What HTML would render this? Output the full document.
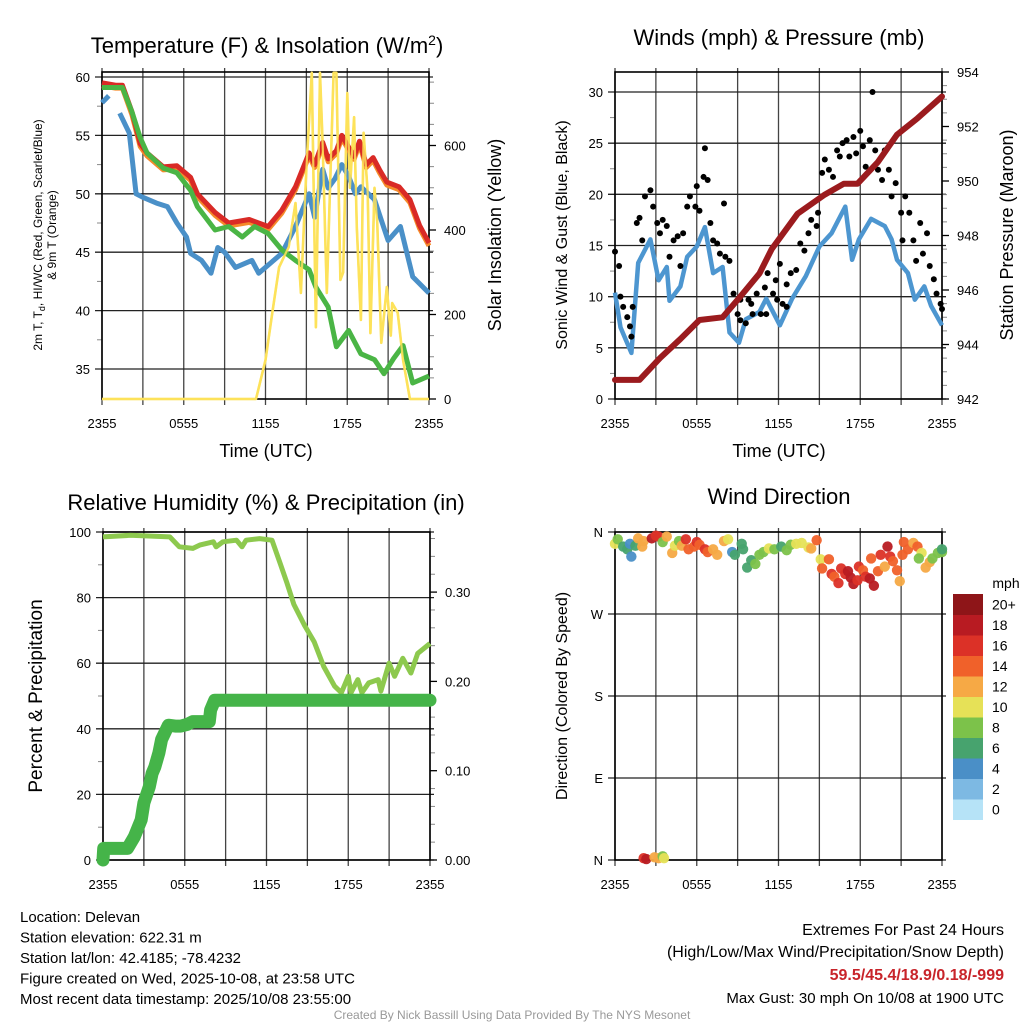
<!DOCTYPE html>
<html><head><meta charset="utf-8"><style>
html,body{margin:0;padding:0;background:#fff;}
svg{display:block;font-family:"Liberation Sans",Arial,sans-serif;}
</style></head><body>
<svg id="c" width="1024" height="1024" viewBox="0 0 1024 1024"></svg>
<script>
// ---------- DATA ----------
const timeTicks=["2355","0555","1155","1755","2355"];
// Panel 1 temperature
const redH=[0,1,1.5,2.2,2.8,3.3,4.5,5.5,6.5,7,8.3,9.3,10.8,12.2,13.2,14.2,15.2,15.6,16.2,16.6,17.2,17.6,18.1,18.5,18.9,19.4,19.9,20.4,20.9,21.8,22.6,23.3,24];
const redV=[59.5,59.3,59.3,57,54.3,53.5,52.3,52.4,51.4,50,48.4,47.5,47.8,47.2,48.6,50.6,53.5,52.5,54.4,53,53.7,55,54,53.2,54.5,52.5,53.1,52,51,50.6,49.5,47.3,45.8];
const grnH=[0,1.5,2.2,2.8,3.3,4.5,5.5,6.5,7,8.3,9.3,10.3,11.2,12.2,13.2,14.2,15.2,15.7,16.6,17.2,18.1,19,20,20.7,21.4,22.1,22.8,24];
const grnV=[59.1,59.1,57,54.8,53.5,52.2,51.8,50.3,48.9,46.9,47.2,46.3,47.2,46.6,45.2,44.3,43.5,42,40.3,36.9,38.3,36.3,35.8,34.6,35.9,37,33.8,34.4];
const bluH=[0,0.5,null,1.3,2,2.5,3,4,4.8,5.5,6.2,6.5,7.3,8,8.5,9,9.8,11,11.5,12.3,13.2,14.2,15.2,15.6,16.2,16.6,17.1,17.6,18.1,18.6,19,20,21,21.9,22.8,24];
const bluV=[57.8,58.4,null,56.9,55.2,50,49.7,49.2,48.9,47.5,46.3,44.9,44.3,43.2,45.4,45,43.7,44.3,43.2,44,44.9,47.2,50,48,52.1,50.5,51.3,52.5,51.5,50,50.6,49.5,46,47.2,42.9,41.5];
const solH=[0,11.3,12,12.5,13,13.7,14.2,14.6,15,15.4,15.7,16,16.2,16.5,17,17.2,17.5,17.7,18,18.2,18.5,18.7,19,19.2,19.5,19.7,20,20.2,20.5,20.9,21.2,21.3,21.7,22.1,22.6,24];
const solV=[0,0,92,204,312,360,464,251,545,772,170,772,600,251,772,772,282,300,724,500,667,407,187,630,488,156,500,420,133,265,150,227,204,92,0,0];
// Panel 2 winds & pressure
const presH=[0,1.8,3.3,4.8,6.2,7.9,9.1,10.6,11.5,13.4,15.4,16.8,17.8,19.3,20.7,22.2,24];
const presV=[942.7,942.7,943.5,944.2,944.9,945.0,945.7,946.6,947.5,948.8,949.5,949.9,949.9,950.7,951.7,952.3,953.1];
const windH=[0,0.4,1.2,1.7,2.6,3.2,3.8,4,4.8,5.3,6,6.6,7.2,7.9,8.4,9.1,9.6,10.6,11.1,12.1,13,14,15,15.9,16.9,17.4,17.9,18.8,19.8,20.3,20.7,21.5,22,22.7,23.2,24];
const windV=[10.4,7,4.5,13.3,15.6,11.6,12.9,9.6,11,13.9,14.9,16.8,12.3,12.9,6.5,5.5,7.8,8.5,9.8,7.2,9.8,12,14.9,16.2,18.8,13.6,15.6,17.6,16.9,15.6,13.6,12.3,9.7,11,9.1,7.2];
const gustH=[0,0.3,0.4,0.6,0.9,1.1,1.2,1.3,1.6,1.8,2.0,2.2,2.6,2.8,3.1,3.3,3.5,3.8,4.0,4.3,4.6,4.8,5.0,5.3,5.5,5.9,6.0,6.2,6.5,6.6,6.8,7.0,7.2,7.5,7.7,8.0,8.1,8.4,8.7,9.0,9.2,9.6,9.8,10.0,10.4,10.7,11.0,11.2,11.6,11.9,12.3,12.6,12.9,13.3,13.6,13.9,14.2,14.4,14.8,14.9,15.2,15.4,15.7,16.0,16.3,16.5,16.7,17.0,17.2,17.5,17.7,18.0,18.2,18.4,18.7,18.9,19.1,19.3,19.6,19.8,20.1,20.3,20.6,21.0,21.1,21.3,21.6,21.9,22.1,22.4,22.6,22.9,23.1,23.4,23.6,23.9,24.0,9.2,10.1,11.1,11.8,12.1,12.6];
const gustV=[14.4,13.0,10.0,9.0,8.0,7.1,6.1,9.0,17.2,17.7,15.5,19.8,20.4,18.8,17.2,16.2,17.5,16.9,13.9,15.5,15.9,13.0,16.2,18.8,19.8,18.8,20.8,18.4,21.7,24.5,21.4,17.2,15.5,15.2,14.2,19.1,13.9,13.5,10.3,8.3,7.7,7.4,9.7,9.3,10.3,8.3,10.9,12.3,10.3,9.7,9.3,11.2,12.3,12.6,15.2,14.5,16.2,17.5,16.9,18.2,22.1,23.4,22.4,21.7,24.3,23.7,25.0,25.3,23.7,25.6,24.0,26.2,24.7,22.7,25.3,30.0,24.3,22.4,21.4,24.3,22.4,19.8,21.1,18.2,15.5,19.8,18.2,15.5,13.5,17.2,14.2,16.2,13.0,11.7,10.3,9.3,8.8,9.7,8.3,8.3,11.6,13.2,9.0];
// Panel 3 RH & precip
const rhH=[0,2,4.9,5.6,6.6,7.1,8.1,8.3,8.8,9.8,10.2,10.5,11.5,12.4,13,13.5,14,14.8,15.5,16.2,17,17.5,18,18.2,18.7,19,19.5,20.2,20.4,21,21.4,22,22.6,23.1,24];
const rhV=[98.5,99,98.5,95.5,95,96,97,95.5,97,97.5,95.5,97.5,98,97.5,90.5,84.5,78,71.5,66.5,59,53,51,56,51,55,51,54,55,51.5,60,56,61.5,57,63,66];
const prH=[0,0.05,0.5,1,1.5,1.8,2.3,2.8,3,3.4,3.6,3.8,4.1,4.3,4.8,5.3,5.7,6.2,6.6,7.2,7.8,7.9,8.2,9,10,11,12,13,14,15,16,17,18,19,20,21,22,23,24];
const prV=[0,0.013,0.013,0.013,0.013,0.013,0.026,0.045,0.064,0.082,0.097,0.104,0.12,0.135,0.151,0.15,0.15,0.152,0.155,0.155,0.155,0.168,0.179,0.179,0.179,0.179,0.179,0.179,0.179,0.179,0.179,0.179,0.179,0.179,0.179,0.179,0.179,0.179,0.179];
// Panel 4 wind direction
const dirH=[0,0.2,0.6,0.9,1.1,1.2,1.5,1.7,2,2.1,2.7,3,3.2,3.5,3.8,4.2,4.4,4.7,4.9,5.2,5.4,5.8,6,6.2,6.6,6.8,7.2,7.5,8,8.3,8.6,8.8,9.3,9.4,9.7,10,10.3,10.6,10.9,11.3,11.7,12.2,12.6,12.9,13.3,13.7,14.2,14.4,14.8,15.1,15.2,15.7,15.9,16.1,16.4,16.6,16.9,17.1,17.3,17.5,17.8,17.9,18.2,18.4,18.7,18.8,19,19.3,19.5,19.8,20,20.2,20.4,20.7,20.9,21.1,21.2,21.5,21.9,22.2,22.5,22.3,22.8,23.1,23.3,23.7,24,24,2.1,2.3,2.9,3.2,3.5,3.6];
const dirV=[347,352,344,341,347,333,345,353,344,350,353,356,355,349,355,337,345,350,345,352,341,344,349,346,341,338,341,335,350,352,338,335,347,341,321,329,325,335,338,342,341,344,340,346,347,348,343,342,351,330,320,330,314,311,304,320,314,317,310,303,307,322,318,311,309,331,301,317,335,322,344,333,328,318,306,335,349,341,348,344,337,331,321,327,331,337,338,341,2,1,3,2,4,2];
const dirS=[10,7,5,5,4,3,5,12,12,12,17,15,16,8,12,12,10,8,12,15,14,14,15,14,16,14,12,11,12,10,4,5,6,6,6,6,8,8,8,10,7,6,8,8,10,10,10,12,14,10,14,14,16,14,16,16,16,18,18,18,16,16,14,16,18,14,18,14,16,12,18,16,14,14,12,14,14,14,12,14,10,8,12,12,8,8,8,6,16,18,12,12,8,10];
const cbColors=["#b6e3f7","#7db9e3","#4a8fc7","#47a36e","#7cc24a","#e6e157","#f6a945","#f0612a","#dc3127","#b81b22","#8e1518"];
const cbLabels=["0","2","4","6","8","10","12","14","16","18","20+"];

// ---------- HELPERS ----------
const svg=document.getElementById('c');
const NS='http://www.w3.org/2000/svg';
function el(tag,attrs,parent){const e=document.createElementNS(NS,tag);for(const k in attrs)e.setAttribute(k,attrs[k]);(parent||svg).appendChild(e);return e;}
function txt(s,x,y,size,anchor,parent,extra){const t=el('text',Object.assign({x:x,y:y,'font-size':size,'text-anchor':anchor||'middle',fill:'#000'},extra||{}),parent);t.textContent=s;return t;}
function lin(d0,d1,r0,r1){return v=>r0+(v-d0)/(d1-d0)*(r1-r0);}
function pathFrom(H,V,sx,sy){let d='',pen=false;for(let i=0;i<H.length;i++){if(H[i]===null){pen=false;continue;}d+=(pen?'L':'M')+sx(H[i]).toFixed(1)+','+sy(V[i]).toFixed(1);pen=true;}return d;}

function frame(g,L,R,T,B,sx,leftTicks,sy,rightTicks,sy2,opts){
  // vertical grid every 3h
  for(let h=0;h<=24;h+=3){const x=sx(h);const l=el('line',{x1:x,x2:x,y1:T-4,y2:B+6,stroke:'#444','stroke-width':1.3},g);
    }
  leftTicks.forEach(t=>{const y=sy(t.v);const l=el('line',{x1:L-7,x2:R+4,y1:y,y2:y,stroke:'#222','stroke-width':1.3},g);
    
    const tt=txt(t.s,L-12,y+5,13,'end',g);});
  (opts.minorL||[]).forEach(v=>{const y=sy(v);el('line',{x1:L-5,x2:L,y1:y,y2:y,stroke:'#888','stroke-width':1},g);});
  if(rightTicks){rightTicks.forEach(t=>{const y=sy2(t.v);el('line',{x1:R,x2:R+7,y1:y,y2:y,stroke:'#000','stroke-width':1.3},g);
    const tt=txt(t.s,R+15,y+5,13,'start',g);});
    (opts.minorR||[]).forEach(v=>{const y=sy2(v);el('line',{x1:R,x2:R+5,y1:y,y2:y,stroke:'#888','stroke-width':1},g);});}
  timeTicks.forEach((s,i)=>{const tt=txt(s,sx(i*6),B+29,13,'middle',g);});
  const r=el('rect',{x:L,y:T,width:R-L,height:B-T,fill:'none',stroke:'#000','stroke-width':1.6},g);
  
}
function grp(name){const g=el('g',{});return g;}

// ---------- PANEL 1 ----------
(function(){
  const g=grp('temperature-panel');
  const L=102,R=429,T=72,B=399;
  const sx=lin(0,24,L,R), sy=lin(35,60,369,77), sy2=lin(0,200,399,314.5);
  frame(g,L,R,T,B,sx,[35,40,45,50,55,60].map(v=>({v:v,s:String(v)})),sy,[0,200,400,600].map(v=>({v:v,s:String(v)})),sy2,{minorL:[37.5,42.5,47.5,52.5,57.5],minorR:[50,100,150,250,300,350,450,500,550,650,700,750]});
  const s=el('path',{d:pathFrom(solH,solV,sx,sy2),fill:'none',stroke:'#fde25a','stroke-width':2.6,'stroke-linejoin':'round'},g);
  
  const b=el('path',{d:pathFrom(bluH,bluV,sx,sy),fill:'none',stroke:'#4a90c8','stroke-width':5,'stroke-linejoin':'round'},g);
  
  const o=el('path',{d:pathFrom(redH,redV.map(v=>v-0.25),sx,sy),fill:'none',stroke:'#f58a2a','stroke-width':5,'stroke-linejoin':'round'},g);
  
  const r=el('path',{d:pathFrom(redH,redV,sx,sy),fill:'none',stroke:'#d92a26','stroke-width':5,'stroke-linejoin':'round'},g);
  
  const gr=el('path',{d:pathFrom(grnH,grnV,sx,sy),fill:'none',stroke:'#4ab545','stroke-width':5,'stroke-linejoin':'round'},g);
  
  el('path',{d:pathFrom(solH,solV,sx,sy2),fill:'none',stroke:'#fde25a','stroke-width':2.2,'stroke-linejoin':'round',opacity:0.85},g);
  const t=el('text',{x:267,y:53,'font-size':22,'text-anchor':'middle'},g);
  t.innerHTML='Temperature (F) &amp; Insolation (W/m<tspan dy="-8" font-size="14">2</tspan><tspan dy="8">)</tspan>';
  
  const xt=txt('Time (UTC)',266,457,18,'middle',g);
  const yl=el('text',{transform:'translate(42,235) rotate(-90)','font-size':12,'text-anchor':'middle'},g);
  yl.innerHTML='2m T, T<tspan font-size="9" dy="3">d</tspan><tspan dy="-3">, HI/WC (Red, Green, Scarlet/Blue)</tspan>';
  
  const yl2=txt('& 9m T (Orange)',0,0,12,'middle',g,{transform:'translate(56,235) rotate(-90)'});
  
  const yr=txt('Solar Insolation (Yellow)',0,0,18,'middle',g,{transform:'translate(501,235) rotate(-90)'});
  
})();

// ---------- PANEL 2 ----------
(function(){
  const g=grp('winds-pressure-panel');
  const L=615,R=942,T=72,B=399;
  const sx=lin(0,24,L,R), sy=lin(0,30,399,92), sy2=lin(942,954,399,72);
  frame(g,L,R,T,B,sx,[0,5,10,15,20,25,30].map(v=>({v:v,s:String(v)})),sy,[942,944,946,948,950,952,954].map(v=>({v:v,s:String(v)})),sy2,{minorL:[2.5,7.5,12.5,17.5,22.5,27.5],minorR:[942.5,943,943.5,944.5,945,945.5,946.5,947,947.5,948.5,949,949.5,950.5,951,951.5,952.5,953,953.5]});
  const w=el('path',{d:pathFrom(windH,windV,sx,sy),fill:'none',stroke:'#4d96d0','stroke-width':4.5,'stroke-linejoin':'round'},g);
  
  gustH.forEach((h,i)=>{const c=el('circle',{cx:sx(h),cy:sy(gustV[i]),r:3,fill:'#000'},g);
    });
  const p=el('path',{d:pathFrom(presH,presV,sx,sy2),fill:'none',stroke:'#9b1b1e','stroke-width':6,'stroke-linejoin':'round','stroke-linecap':'round'},g);
  
  const t=txt('Winds (mph) & Pressure (mb)',779,45,22,'middle',g);
  const xt=txt('Time (UTC)',779,457,18,'middle',g);
  const yl=txt('Sonic Wind & Gust (Blue, Black)',0,0,16,'middle',g,{transform:'translate(567,235) rotate(-90)'});
  
  const yr=txt('Station Pressure (Maroon)',0,0,18,'middle',g,{transform:'translate(1013,235) rotate(-90)'});
  
})();

// ---------- PANEL 3 ----------
(function(){
  const g=grp('humidity-precip-panel');
  const L=103,R=430,T=532,B=860;
  const sx=lin(0,24,L,R), sy=lin(0,100,860,532), sy2=lin(0,0.1,860,770.7);
  frame(g,L,R,T,B,sx,[0,20,40,60,80,100].map(v=>({v:v,s:String(v)})),sy,[0,0.1,0.2,0.3].map(v=>({v:v,s:v.toFixed(2)})),sy2,{minorL:[10,30,50,70,90],minorR:[0.02,0.04,0.06,0.08,0.12,0.14,0.16,0.18,0.22,0.24,0.26,0.28,0.32,0.34,0.36]});
  const rh=el('path',{d:pathFrom(rhH,rhV,sx,sy),fill:'none',stroke:'#8dc94e','stroke-width':5,'stroke-linejoin':'round'},g);
  
  const pp=el('path',{d:pathFrom(prH,prV,sx,sy2),fill:'none',stroke:'#45b449','stroke-width':13,'stroke-linejoin':'round','stroke-linecap':'round'},g);
  
  const t=txt('Relative Humidity (%) & Precipitation (in)',266,510,22,'middle',g);
  const yl=txt('Percent & Precipitation',0,0,19,'middle',g,{transform:'translate(42,696) rotate(-90)'});
  
})();

// ---------- PANEL 4 ----------
(function(){
  const g=grp('wind-direction-panel');
  const L=615,R=942,T=532,B=860;
  const sx=lin(0,24,L,R), sy=lin(0,360,860,532);
  frame(g,L,R,T,B,sx,[{v:0,s:'N'},{v:90,s:'E'},{v:180,s:'S'},{v:270,s:'W'},{v:360,s:'N'}],sy,null,null,{});
  dirH.forEach((h,i)=>{const idx=Math.min(10,Math.round(dirS[i]/2));const c=el('circle',{cx:sx(h),cy:sy(dirV[i]),r:5.2,fill:cbColors[idx],opacity:0.95},g);
    });
  const t=txt('Wind Direction',779,504,22,'middle',g);
  const yl=txt('Direction (Colored By Speed)',0,0,16,'middle',g,{transform:'translate(567,696) rotate(-90)'});
  
  // colorbar
  const cb=grp('speed-colorbar');
  const u=txt('mph',1006,588,14,'middle',cb);
  const h=20.5, top=594;
  for(let i=0;i<11;i++){const y=top+(10-i)*h;const r=el('rect',{x:953,y:y,width:30,height:h+0.5,fill:cbColors[i]},cb);
    
    const l=txt(cbLabels[i],992,y+h/2+5,14,'start',cb);}
})();

// ---------- FOOTER TEXT ----------
(function(){
  const g=grp('station-info');
  ["Location: Delevan","Station elevation: 622.31 m","Station lat/lon: 42.4185; -78.4232","Figure created on Wed, 2025-10-08, at 23:58 UTC","Most recent data timestamp: 2025/10/08 23:55:00"].forEach((s,i)=>{
    const t=txt(s,20,922+i*20.5,15,'start',g);});
  const e=grp('extremes');
  const a=txt('Extremes For Past 24 Hours',1004,935,16,'end',e);
  const b=txt('(High/Low/Max Wind/Precipitation/Snow Depth)',1004,957,16,'end',e);
  const c=txt('59.5/45.4/18.9/0.18/-999',1004,980,16,'end',e,{fill:'#c8242a','font-weight':'bold'});
  const d=txt('Max Gust: 30 mph On 10/08 at 1900 UTC',1004,1003,15,'end',e);
  const f=txt('Created By Nick Bassill Using Data Provided By The NYS Mesonet',512,1019,12,'middle',svg,{fill:'#999'});
})();
</script>
</body></html>
